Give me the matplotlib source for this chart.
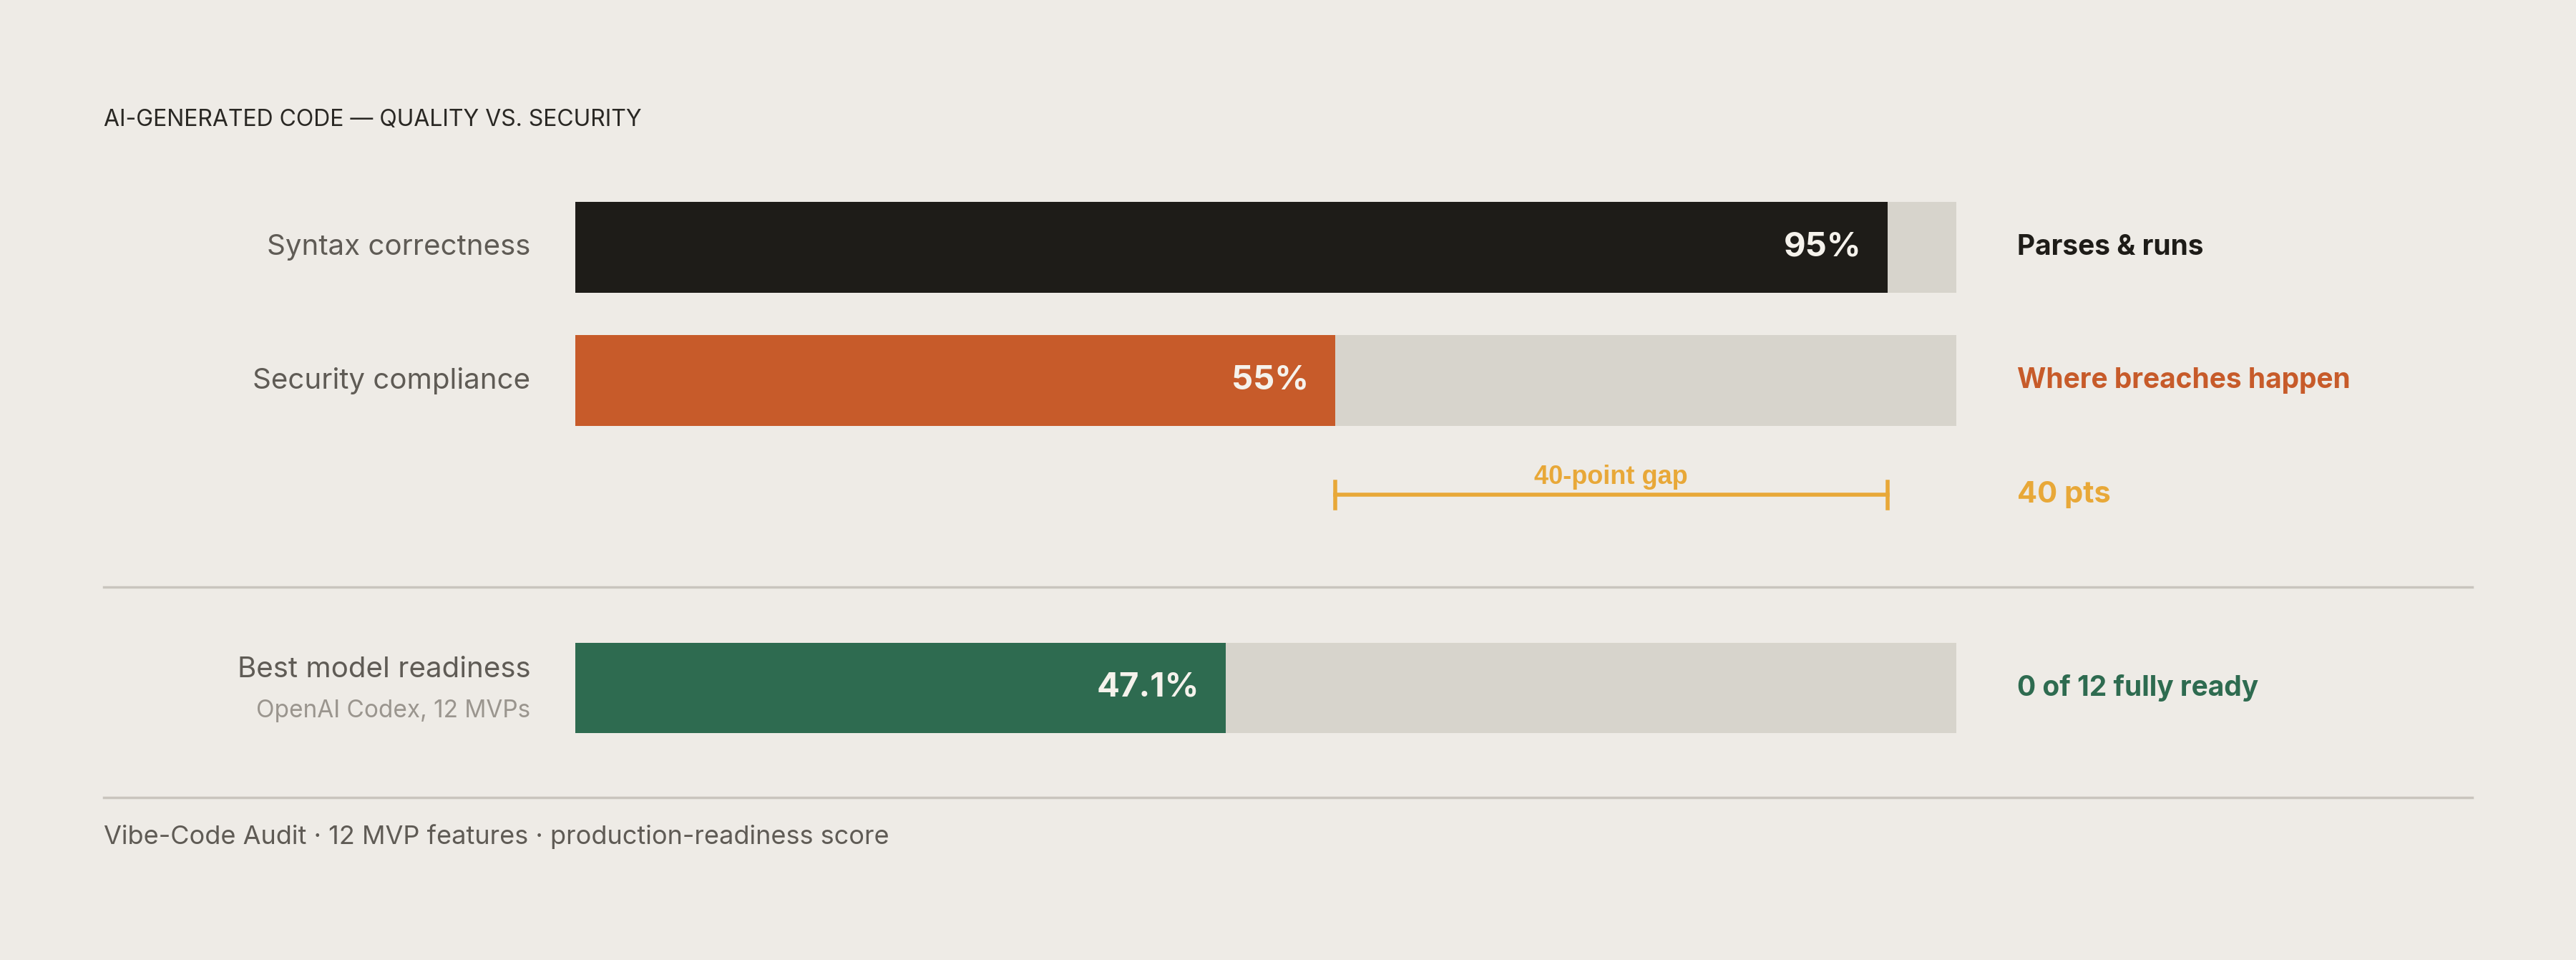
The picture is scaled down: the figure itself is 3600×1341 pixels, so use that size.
import matplotlib.pyplot as plt
from matplotlib.patches import FancyBboxPatch

plt.rcParams['font.family'] = ['Inter', 'DejaVu Sans']

labels = ['Syntax correctness', 'Security compliance', 'Best model readiness']
sublabels = ['', '', 'OpenAI Codex, 12 MVPs']
values = [95, 55, 47.1]
value_text = ['95%', '55%', '47.1%']
notes = ['Parses & runs', 'Where breaches happen', '0 of 12 fully ready']
colors = ['#1E1C18', '#C75B2A', '#2E6B50']
gap_from, gap_to = 55, 95

bg = '#EEEBE6'
track = '#D7D4CC'
gold = '#E8A838'

W, H = 1568, 584
fig = plt.figure(figsize=(36, 13.41), dpi=100, facecolor=bg)

# page axes in reference pixel coords
page = fig.add_axes([0, 0, 1, 1])
page.set_xlim(0, W)
page.set_ylim(H, 0)
page.axis('off')

# bar axes spans the track
left, right, top, bot = 350, 1191, 122, 447
ax = fig.add_axes([left / W, 1 - bot / H, (right - left) / W, (bot - top) / H])
ax.set_xlim(0, 100)
ax.set_ylim(bot, top)
ax.axis('off')
ax.patch.set_alpha(0)

rows = [150.5, 231.5, 418.5]
bh = 57

def rbar(x0, w, yc, color, z):
    r = 0.5
    ax.add_patch(FancyBboxPatch((x0 + r, yc - bh / 2 + r * 5), w - 2 * r, bh - r * 10,
                                boxstyle='round,pad=0,rounding_size=0.1', mutation_aspect=1,
                                fc=color, ec=color, lw=8, joinstyle='round', zorder=z))

for i, yc in enumerate(rows):
    ax.barh(yc, 100, height=bh - 2, color=track, zorder=1)
    ax.barh(yc, values[i], height=bh - 2, color=colors[i], zorder=2)
    ax.text(values[i] - 1.9, yc, value_text[i], ha='right', va='center',
            color='#F5F2EC', fontsize=34, fontweight='bold', zorder=3)
    ty = yc if not sublabels[i] else yc - 11
    page.text(323, ty, labels[i], ha='right', va='center', fontsize=29, color='#5F5B55')
    if sublabels[i]:
        page.text(323, yc + 14, sublabels[i], ha='right', va='center', fontsize=24, color='#9A958E')
    page.text(1228, yc, notes[i], ha='left', va='center', fontsize=28,
              fontweight='bold', color=colors[i] if i else '#1E1C18')

# gap marker
gy = 301
ax.plot([gap_from, gap_to], [gy, gy], color=gold, lw=4, zorder=2)
for gx in (gap_from, gap_to):
    ax.plot([gx, gx], [gy - 8, gy + 8], color=gold, lw=4)
ax.text((gap_from + gap_to) / 2, gy - 3, f'{gap_to - gap_from}-point gap', ha='center', va='bottom',
        fontsize=26, fontweight='bold', color=gold, family=['Liberation Sans', 'DejaVu Sans'])
page.text(1228, gy, f'{gap_to - gap_from} pts', ha='left', va='center', fontsize=30,
          fontweight='bold', color=gold)

page.text(63, 73, 'AI-GENERATED CODE — QUALITY VS. SECURITY', ha='left', va='center',
          fontsize=23, color='#2A2824')
for yy in (357, 485):
    page.plot([63, 1505], [yy, yy], color='#C9C5BE', lw=2.5)
page.text(63, 509, 'Vibe-Code Audit · 12 MVP features · production-readiness score', ha='left',
          va='center', fontsize=26, color='#5F5B55')

fig.savefig('out.png', dpi=100, facecolor=bg)
